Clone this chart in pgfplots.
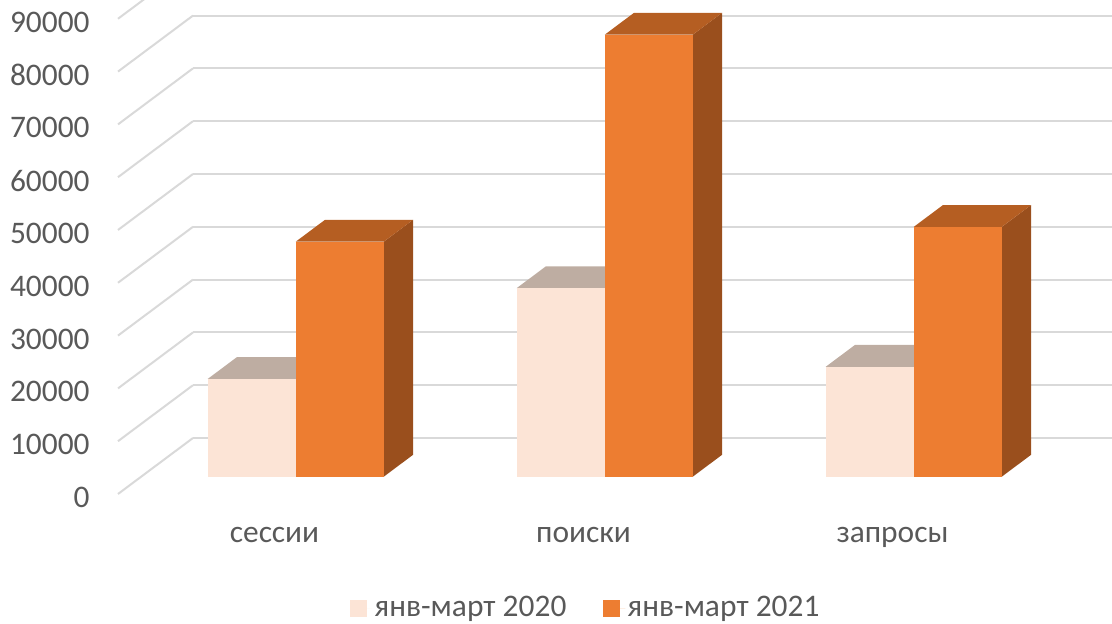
\documentclass[border=0pt]{standalone}
\usepackage{fontspec}
\setmainfont{Carlito}
\usepackage{pgfplots}
\pgfplotsset{compat=1.18}
\definecolor{cAf}{HTML}{FCE4D6}
\definecolor{cAt}{HTML}{BEADA2}
\definecolor{cAs}{HTML}{A89A91}
\definecolor{cBf}{HTML}{ED7D31}
\definecolor{cBt}{HTML}{B55E22}
\definecolor{cBs}{HTML}{9A4F1D}
\definecolor{gridc}{HTML}{D9D9D9}
\definecolor{txt}{HTML}{595959}
\begin{document}
\begin{tikzpicture}
\useasboundingbox (-59pt,-65pt) rectangle (497pt,247pt);
\clip (-59pt,-65pt) rectangle (497pt,247pt);
\begin{axis}[
  at={(0pt,0pt)}, anchor=origin,
  x={(154.5pt,0pt)}, y={(37.5pt,28pt)}, z={(0pt,0.0026375pt)},
  xmin=0, xmax=3, ymin=0, ymax=1, zmin=0, zmax=90000,
  clip=false,
  axis line style={draw=none},
  major tick length=0pt,
  xtick={0.5,1.5,2.5}, xticklabels={сессии,поиски,запросы},
  ytick=\empty,
  ztick={0,10000,20000,30000,40000,50000,60000,70000,80000,90000},
  scaled z ticks=false,
  zmajorgrids=true, xmajorgrids=false, ymajorgrids=false,
  major grid style={draw=gridc, line width=1pt},
  /pgf/number format/assume math mode=true,
  /pgf/number format/1000 sep={},
  tick label style={font=\fontsize{15.7}{18}\selectfont, text=txt, inner sep=1pt},
  xticklabel style={anchor=base, yshift=-24.5pt, xshift=1pt},
  zticklabel style={anchor=east, xshift=-13pt, yshift=-1.75pt},
  legend style={draw=none, fill=none, at={(axis description cs:0.467,-0.215)}, anchor=center,
    legend columns=2, font=\fontsize{15.7}{18}\selectfont, text=txt,
    nodes={inner xsep=1pt, inner ysep=0pt},
    /tikz/every even column/.append style={column sep=17.5pt}},
  legend image code/.code={\fill[#1] (0pt,-4.25pt) rectangle (8.5pt,4.25pt); \path (0pt,0pt) -- (11pt,0pt);},
]
% сессии
\addplot3[fill=cAs, draw=none, forget plot] coordinates {(0.5,0.31,0) (0.5,0.70,0) (0.5,0.70,18500) (0.5,0.31,18500)} -- cycle;
\addplot3[fill=cAt, draw=none, forget plot] coordinates {(0.215,0.31,18500) (0.5,0.31,18500) (0.5,0.70,18500) (0.215,0.70,18500)} -- cycle;
\addplot3[fill=cAf, draw=none, forget plot] coordinates {(0.215,0.31,0) (0.5,0.31,0) (0.5,0.31,18500) (0.215,0.31,18500)} -- cycle;
\addplot3[fill=cBs, draw=none, forget plot] coordinates {(0.785,0.31,0) (0.785,0.70,0) (0.785,0.70,44500) (0.785,0.31,44500)} -- cycle;
\addplot3[fill=cBt, draw=none, forget plot] coordinates {(0.5,0.31,44500) (0.785,0.31,44500) (0.785,0.70,44500) (0.5,0.70,44500)} -- cycle;
\addplot3[fill=cBf, draw=none, forget plot] coordinates {(0.5,0.31,0) (0.785,0.31,0) (0.785,0.31,44500) (0.5,0.31,44500)} -- cycle;
% поиски
\addplot3[fill=cAs, draw=none, forget plot] coordinates {(1.5,0.31,0) (1.5,0.70,0) (1.5,0.70,35700) (1.5,0.31,35700)} -- cycle;
\addplot3[fill=cAt, draw=none, forget plot] coordinates {(1.215,0.31,35700) (1.5,0.31,35700) (1.5,0.70,35700) (1.215,0.70,35700)} -- cycle;
\addplot3[fill=cAf, draw=none, forget plot] coordinates {(1.215,0.31,0) (1.5,0.31,0) (1.5,0.31,35700) (1.215,0.31,35700)} -- cycle;
\addplot3[fill=cBs, draw=none, forget plot] coordinates {(1.785,0.31,0) (1.785,0.70,0) (1.785,0.70,83700) (1.785,0.31,83700)} -- cycle;
\addplot3[fill=cBt, draw=none, forget plot] coordinates {(1.5,0.31,83700) (1.785,0.31,83700) (1.785,0.70,83700) (1.5,0.70,83700)} -- cycle;
\addplot3[fill=cBf, draw=none, forget plot] coordinates {(1.5,0.31,0) (1.785,0.31,0) (1.785,0.31,83700) (1.5,0.31,83700)} -- cycle;
% запросы
\addplot3[fill=cAs, draw=none, forget plot] coordinates {(2.5,0.31,0) (2.5,0.70,0) (2.5,0.70,20800) (2.5,0.31,20800)} -- cycle;
\addplot3[fill=cAt, draw=none, forget plot] coordinates {(2.215,0.31,20800) (2.5,0.31,20800) (2.5,0.70,20800) (2.215,0.70,20800)} -- cycle;
\addplot3[fill=cAf, draw=none, forget plot] coordinates {(2.215,0.31,0) (2.5,0.31,0) (2.5,0.31,20800) (2.215,0.31,20800)} -- cycle;
\addplot3[fill=cBs, draw=none, forget plot] coordinates {(2.785,0.31,0) (2.785,0.70,0) (2.785,0.70,47300) (2.785,0.31,47300)} -- cycle;
\addplot3[fill=cBt, draw=none, forget plot] coordinates {(2.5,0.31,47300) (2.785,0.31,47300) (2.785,0.70,47300) (2.5,0.70,47300)} -- cycle;
\addplot3[fill=cBf, draw=none, forget plot] coordinates {(2.5,0.31,0) (2.785,0.31,0) (2.785,0.31,47300) (2.5,0.31,47300)} -- cycle;
\addlegendimage{fill=cAf, draw=none}
\addlegendentry{янв-март 2020}
\addlegendimage{fill=cBf, draw=none}
\addlegendentry{янв-март 2021}
\end{axis}
\end{tikzpicture}
\end{document}
